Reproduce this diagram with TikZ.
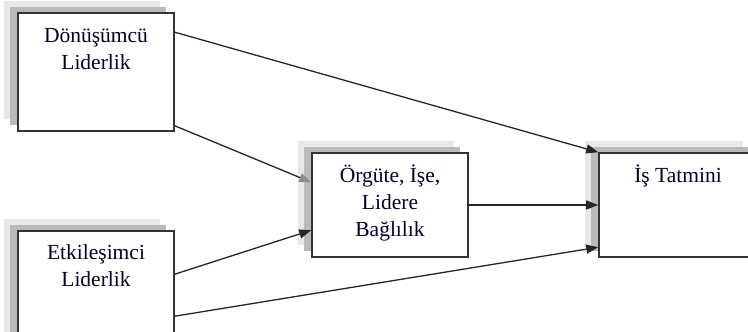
\documentclass[tikz,border=0pt]{standalone}
\usepackage{fontspec}
\setmainfont{Liberation Serif}
\usetikzlibrary{arrows.meta,calc}
\tikzset{
  box/.style={draw=black!80, line width=1.6bp, fill=white, minimum width=156bp, minimum height=118bp, inner sep=0pt},
  shdark/.style={fill=black!27},
  shlight/.style={fill=black!9},
  lbl/.style={align=center, inner sep=0pt, font=\fontsize{21.5bp}{27bp}\selectfont, text=black!85!blue},
  conn/.style={draw=black!85, line width=1.3bp, -{Triangle[length=12bp,width=9bp]}},
}
\newcommand{\shadowbox}[3]{%
  \fill[shlight] ($(#1)+(-14,-12)$) rectangle ($(#2)+(-14,-12)$);
  \fill[shdark] ($(#1)+(-8,-6)$) rectangle ($(#2)+(-8,-6)$);
}
\begin{document}
\begin{tikzpicture}[x=1bp,y=-1bp]
\useasboundingbox (0,0) rectangle (748,331);
\clip (0,0) rectangle (748,331);
\fill[white] (0,0) rectangle (748,331);
% shadows
\shadowbox{18,13}{174,131}{}
\shadowbox{312,153}{468,257}{}
\shadowbox{599,153}{757,257}{}
\shadowbox{18,231}{174,349}{}
% boxes
\node[box] (b1) at (96,72) {};
\node[box, minimum height=104bp] (b2) at (390,205) {};
\node[box, minimum width=158bp, minimum height=104bp] (b3) at (678,205) {};
\node[box] (b4) at (96,290) {};
% labels (base anchor = baseline of the last line)
\node[lbl, anchor=base] (t1) at ($(b1.north)+(0,57)$) {Dönüşümcü\\Liderlik};
\node[lbl, anchor=base] (t2) at ($(b2.north)+(0,84)$) {Örgüte, İşe,\\Lidere\\Bağlılık};
\node[lbl, anchor=base] (t3) at ($(b3.north)+(0,30)$) {İş Tatmini};
\node[lbl, anchor=base] (t4) at ($(b4.north)+(0,56)$) {Etkileşimci\\Liderlik};
% connectors
\draw[conn] ($(b1.north east)+(0,20)$) -- (b3.north west);
\draw[conn, -{Triangle[length=12bp,width=9bp,color=black!45]}] ($(b1.south east)+(0,-6)$) -- ($(b2.north west)+(0,30)$);
\draw[conn] ($(b4.north east)+(0,44)$) -- ($(b2.north west)+(0,78)$);
\draw[conn] ($(b4.north east)+(0,86)$) -- ($(b3.north west)+(0,95)$);
\draw[conn] (b2.east) -- (b3.west);
\end{tikzpicture}
\end{document}
